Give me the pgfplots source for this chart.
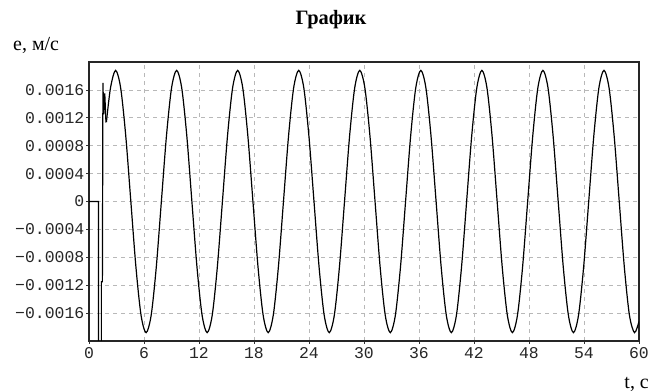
\documentclass[border=0pt]{standalone}
\usepackage{fontspec}
\setmainfont{Liberation Serif}
\newfontfamily\tickfont{Liberation Mono}
\usepackage{pgfplots}
\pgfplotsset{compat=1.18}
\begin{document}
\begin{tikzpicture}
\begin{axis}[
  at={(89bp,51bp)}, anchor=south west,
  width=550bp, height=279bp, scale only axis,
  xmin=0, xmax=60, ymin=-0.002, ymax=0.002,
  xtick={0,6,12,18,24,30,36,42,48,54,60},
  xticklabels={0,6,12,18,24,30,36,42,48,54,60},
  ytick={-0.0016,-0.0012,-0.0008,-0.0004,0,0.0004,0.0008,0.0012,0.0016},
  yticklabels={−0.0016,−0.0012,−0.0008,−0.0004,0,0.0004,0.0008,0.0012,0.0016},
  scaled y ticks=false,
  grid=major,
  major grid style={black!28, dash pattern=on 4bp off 4bp, line width=0.8bp},
  tick align=outside, major tick length=3bp, tick pos=left,
  tick style={black!80, line width=0.8bp},
  axis line style={line width=1.1bp, black!85},
  ticklabel style={font=\tickfont\fontsize{16.5}{17}\selectfont, text=black!85},
  yticklabel style={inner sep=1.5bp},
  xticklabel style={inner sep=3bp},
]
\addplot[black, line width=1.2bp, sharp plot] coordinates {
(0,0) (1.03,0) (1.03,-0.0025) (1.35,-0.0025) (1.35,-0.00115) (1.46,-0.00115)
(1.52,0.0017) (1.6,0.00125) (1.72,0.00155) (1.85,0.00114) (1.9,0.00114)
};
\addplot[black, line width=1.2bp, smooth] coordinates {
(1.9,0.00114) (2.345,0.001628)
(2.900,0.00188) (3.455,0.001628) (4.010,0.00094) (4.565,0) (5.120,-0.00094) (5.675,-0.001628)
(6.230,-0.00188) (6.785,-0.001628) (7.340,-0.00094) (7.895,0) (8.450,0.00094) (9.005,0.001628)
(9.560,0.00188) (10.115,0.001628) (10.670,0.00094) (11.225,0) (11.780,-0.00094) (12.335,-0.001628)
(12.890,-0.00188) (13.445,-0.001628) (14.000,-0.00094) (14.555,0) (15.110,0.00094) (15.665,0.001628)
(16.220,0.00188) (16.775,0.001628) (17.330,0.00094) (17.885,0) (18.440,-0.00094) (18.995,-0.001628)
(19.550,-0.00188) (20.105,-0.001628) (20.660,-0.00094) (21.215,0) (21.770,0.00094) (22.325,0.001628)
(22.880,0.00188) (23.435,0.001628) (23.990,0.00094) (24.545,0) (25.100,-0.00094) (25.655,-0.001628)
(26.210,-0.00188) (26.765,-0.001628) (27.320,-0.00094) (27.875,0) (28.430,0.00094) (28.985,0.001628)
(29.540,0.00188) (30.095,0.001628) (30.650,0.00094) (31.205,0) (31.760,-0.00094) (32.315,-0.001628)
(32.870,-0.00188) (33.425,-0.001628) (33.980,-0.00094) (34.535,0) (35.090,0.00094) (35.645,0.001628)
(36.200,0.00188) (36.755,0.001628) (37.310,0.00094) (37.865,0) (38.420,-0.00094) (38.975,-0.001628)
(39.530,-0.00188) (40.085,-0.001628) (40.640,-0.00094) (41.195,0) (41.750,0.00094) (42.305,0.001628)
(42.860,0.00188) (43.415,0.001628) (43.970,0.00094) (44.525,0) (45.080,-0.00094) (45.635,-0.001628)
(46.190,-0.00188) (46.745,-0.001628) (47.300,-0.00094) (47.855,0) (48.410,0.00094) (48.965,0.001628)
(49.520,0.00188) (50.075,0.001628) (50.630,0.00094) (51.185,0) (51.740,-0.00094) (52.295,-0.001628)
(52.850,-0.00188) (53.405,-0.001628) (53.960,-0.00094) (54.515,0) (55.070,0.00094) (55.625,0.001628)
(56.180,0.00188) (56.735,0.001628) (57.290,0.00094) (57.845,0) (58.400,-0.00094) (58.955,-0.001628)
(59.510,-0.00188) (60.000,-0.00172)
};
\end{axis}
\node[font=\bfseries\fontsize{20.5}{20.5}\selectfont, anchor=base] at (331bp,367bp) {График};
\node[font=\fontsize{20}{20}\selectfont, anchor=base west, inner sep=0pt] at (13bp,341bp) {e, м/с};
\node[font=\fontsize{20}{20}\selectfont, anchor=base east, inner sep=0pt] at (649bp,4bp) {t, с};
\pgfresetboundingbox
\path (0,0) rectangle (651bp,392bp);
\end{tikzpicture}
\end{document}
